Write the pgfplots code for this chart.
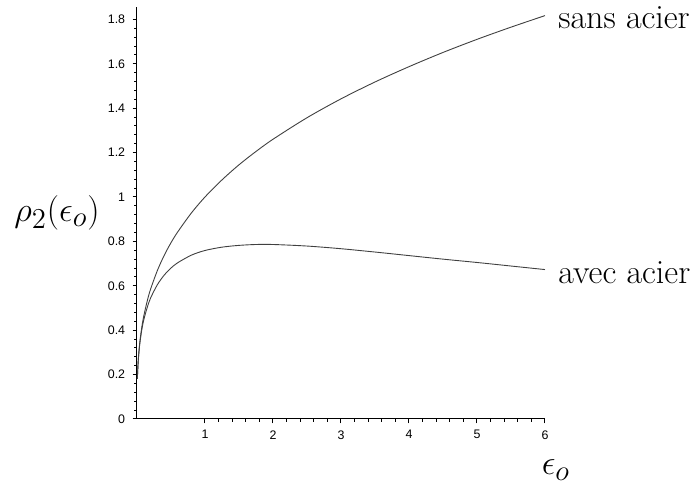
\documentclass[border=0pt]{standalone}
\usepackage{fontspec}
\usepackage{pgfplots}
\pgfplotsset{compat=1.18}
\newfontfamily\ticksf{Liberation Sans}
\begin{document}
\begin{tikzpicture}
\path[use as bounding box] (-68.5pt,-35.5pt) rectangle (278pt,209.5pt);
\begin{axis}[
  anchor=origin, at={(0pt,0pt)},
  x=34pt, y=111pt,
  xmin=0, xmax=6, ymin=0, ymax=1.856,
  axis lines=left,
  axis line style={-, line width=0.5pt},
  xtick={1,2,3,4,5,6},
  ytick={0,0.2,0.4,0.6,0.8,1,1.2,1.4,1.6,1.8},
  yticklabels={0,0.2,0.4,0.6,0.8,1,1.2,1.4,1.6,1.8},
  xticklabels={1,2,3,4,5,6},
  minor x tick num=4, minor y tick num=4,
  tick align=outside,
  major tick length=2.2pt, minor tick length=1.3pt,
  tick style={line width=0.5pt, black},
  tick label style={font=\ticksf\fontsize{6.2}{7}\selectfont},
  yticklabel style={xshift=-0.2pt},
  /pgf/number format/assume math mode=true,
  clip=false,
]
\addplot[line width=0.45pt, black!75, smooth] coordinates {
(0.006,0.1817)(0.01,0.2154)(0.02,0.2714)(0.04,0.342)(0.07,0.412)(0.1,0.464)
(0.15,0.531)(0.2,0.585)(0.3,0.669)(0.4,0.737)(0.5,0.794)(0.6,0.843)(0.8,0.928)
(1,1.000)(1.25,1.077)(1.5,1.145)(1.75,1.205)(2,1.260)(2.5,1.357)(3,1.442)
(3.5,1.518)(4,1.587)(4.5,1.651)(5,1.710)(5.5,1.765)(6,1.817)};
\addplot[line width=0.45pt, black!75, smooth] coordinates {
(0.006,0.181)(0.01,0.2144)(0.02,0.269)(0.04,0.336)(0.07,0.401)(0.1,0.447)
(0.15,0.502)(0.2,0.545)(0.3,0.605)(0.4,0.648)(0.5,0.680)(0.6,0.704)(0.8,0.738)
(1,0.759)(1.25,0.774)(1.5,0.782)(1.75,0.786)(2,0.786)(2.5,0.779)(3,0.767)
(3.5,0.752)(4,0.736)(4.5,0.720)(5,0.705)(5.5,0.689)(6,0.673)};
\node[anchor=west, inner sep=0pt, font=\fontsize{17}{20}\selectfont] at (axis cs:6,1.817) [xshift=6.5pt, yshift=-1pt] {sans acier};
\node[anchor=west, inner sep=0pt, font=\fontsize{17}{20}\selectfont] at (axis cs:6,0.673) [xshift=6.5pt, yshift=-1.5pt] {avec acier};
\node[inner sep=0pt, font=\fontsize{19}{22}\selectfont] at (axis cs:0,0.928) [xshift=-40pt] {$\rho_2(\epsilon_o)$};
\node[inner sep=0pt, font=\fontsize{19}{22}\selectfont] at (axis cs:6.16,0) [yshift=-25.5pt] {$\epsilon_o$};
\end{axis}
\end{tikzpicture}
\end{document}
